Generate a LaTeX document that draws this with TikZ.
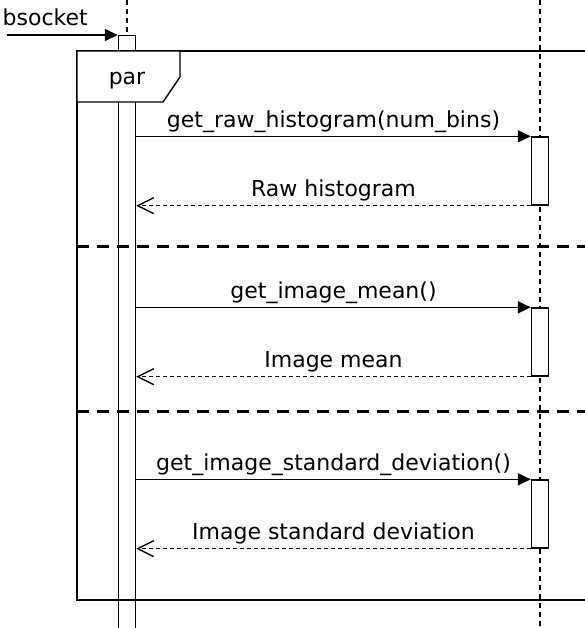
\documentclass[tikz,border=0pt]{standalone}
\usepackage{fontspec}
\setmainfont{DejaVu Sans}
\usetikzlibrary{arrows.meta}

\begin{document}
\begin{tikzpicture}[x=0.5pt,y=-0.5pt,line width=0.7pt,
	font=\fontsize{11}{13}\selectfont,
	lifeline/.style={dash pattern=on 2.5pt off 2pt},
	actbar/.style={draw,fill=white,minimum width=8.5pt,inner sep=0pt},
	callmsg/.style={-{Triangle[length=6.5pt,width=6pt]}},
	replymsg/.style={dash pattern=on 2pt off 1.5pt,-{Straight Barb[length=8pt,width=8pt]}},
	separator/.style={line width=1.5pt,dash pattern=on 6pt off 4pt},
	msglabel/.style={anchor=base,inner sep=0pt,yshift=4.5pt}]
	\useasboundingbox (0,0) rectangle (585,628);
	\def\xa{127} %caller lifeline
	\def\xb{540} %callee lifeline
	
	%LIFELINES
	\draw[lifeline] (\xa,0) -- (\xa,35);
	\draw[lifeline] (\xb,0) -- (\xb,628);
	
	%ACTIVATION BARS
	\node[actbar,minimum height=302.5pt,anchor=north] (lbar) at (\xa,35) {};
	\node[actbar,minimum height=34pt] (act1) at (\xb,171) {};
	\node[actbar,minimum height=34pt] (act2) at (\xb,342) {};
	\node[actbar,minimum height=34pt] (act3) at (\xb,514) {};
	
	%FOUND MESSAGE
	\coordinate (start) at (7,0);
	\node[anchor=base west,inner sep=0pt] (bsock) at (2,25) {bsocket};
	\draw[callmsg] (start |- lbar.north) -- (lbar.north west);
	
	%PAR FRAGMENT
	\draw (600,51) -- (77,51) -- (77,600) -- (600,600);
	\draw[fill=white] (77,51) -- (180,51) -- (180,77) -- (163,102) -- (77,102) -- cycle;
	\node[anchor=base,inner sep=0pt] (par) at (127,84) {par};
	\draw[separator] (77,246) -- (585,246);
	\draw[separator] (77,411) -- (585,411);
	
	%MESSAGES
	\draw[callmsg] (lbar.east |- act1.north) -- (act1.north west) node[msglabel,midway] (call1) {get\_raw\_histogram(num\_bins)};
	\draw[replymsg] (act1.south west) -- (lbar.east |- act1.south) node[msglabel,midway] (reply1) {Raw histogram};
	\draw[callmsg] (lbar.east |- act2.north) -- (act2.north west) node[msglabel,midway] (call2) {get\_image\_mean()};
	\draw[replymsg] (act2.south west) -- (lbar.east |- act2.south) node[msglabel,midway] (reply2) {Image mean};
	\draw[callmsg] (lbar.east |- act3.north) -- (act3.north west) node[msglabel,midway] (call3) {get\_image\_standard\_deviation()};
	\draw[replymsg] (act3.south west) -- (lbar.east |- act3.south) node[msglabel,midway] (reply3) {Image standard deviation};
\end{tikzpicture}
\end{document}
